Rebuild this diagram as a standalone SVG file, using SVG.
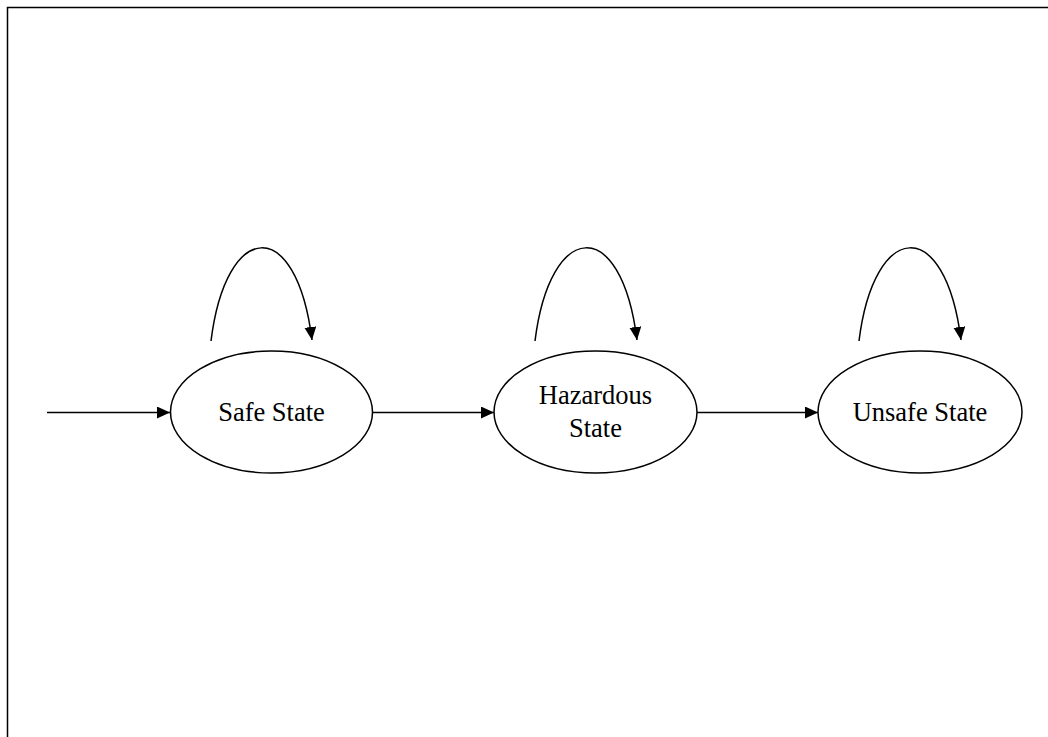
<svg xmlns="http://www.w3.org/2000/svg" width="1048" height="737" viewBox="0 0 1048 737">
  <style>
    .state { fill: #ffffff; stroke: #000000; stroke-width: 1.5; }
    .label { font-family: "Liberation Serif", "Times New Roman", serif; font-size: 26.5px; fill: #000000; text-anchor: middle; }
    .edge { fill: none; stroke: #000000; stroke-width: 1.5; }
  </style>
  <defs>
    <marker id="arrow" viewBox="0 0 13 12" refX="13" refY="6" markerWidth="13" markerHeight="12" markerUnits="userSpaceOnUse" orient="auto">
      <path d="M0,0 L13,6 L0,12 Z" fill="#000000"/>
    </marker>
  </defs>

  <rect width="1048" height="737" fill="#ffffff"/>
  <!-- frame -->
  <path d="M7.5,737 L7.5,7.5 L1048,7.5" fill="none" stroke="#000000" stroke-width="1.5"/>

  <g id="connectors">
    <line class="edge" x1="47" y1="412.5" x2="170" y2="412.5" marker-end="url(#arrow)"/>
    <line class="edge" x1="373" y1="412.5" x2="494" y2="412.5" marker-end="url(#arrow)"/>
    <line class="edge" x1="697" y1="412.5" x2="818" y2="412.5" marker-end="url(#arrow)"/>
    <path class="edge" d="M211,341 C226,220 296,214 312,340" marker-end="url(#arrow)"/>
    <path class="edge" d="M535,341 C550,220 621,214 637,340" marker-end="url(#arrow)"/>
    <path class="edge" d="M859,341 C874,220 945,214 961,340" marker-end="url(#arrow)"/>
  </g>

  <g id="safe-state">
    <ellipse class="state" cx="271.5" cy="412" rx="101" ry="61"/>
    <text class="label" x="271.5" y="421">Safe State</text>
  </g>

  <g id="hazardous-state">
    <ellipse class="state" cx="595.5" cy="412" rx="101.5" ry="61"/>
    <text class="label" x="595.5" y="404">Hazardous</text>
    <text class="label" x="595.5" y="437">State</text>
  </g>

  <g id="unsafe-state">
    <ellipse class="state" cx="920" cy="412" rx="102" ry="61"/>
    <text class="label" x="920" y="421">Unsafe State</text>
  </g>
</svg>
